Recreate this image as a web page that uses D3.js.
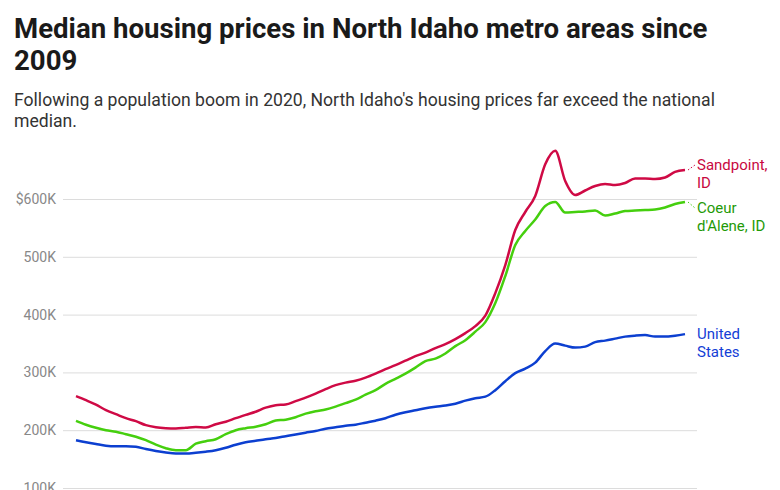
<!DOCTYPE html>
<head>
  <meta charset="utf-8">
  <script src="https://cdn.jsdelivr.net/npm/d3@7"></script>
  <style>
    body { margin:0; background:#fff; overflow:hidden; }
    svg { display:block; font-family: Roboto, "Noto Sans", sans-serif; }
  </style>
</head>

<body>
  <script>
    // size of the page
    var width = 780;
    var height = 490;

    // quarters from 2009 Q1 onward (x categories)
    var quarters = [];
    for (var yr = 2009; yr <= 2024; yr++) {
      for (var q = 1; q <= 4; q++) quarters.push(yr + " Q" + q);
    }
    quarters = quarters.slice(0, 62);

    // median prices in thousands of dollars
    var sandpoint = [258.9, 251.9, 244.2, 234.6, 227.7, 220.8, 215.6, 208.7, 205.2, 203.5,
      202.9, 204.3, 205.7, 204.7, 210.4, 214.7, 220.8, 226.5, 232.0, 239.0,
      243.3, 244.5, 250.2, 256.3, 263.2, 271.0, 277.9, 282.3, 285.7, 290.9,
      297.8, 305.6, 312.6, 320.3, 328.1, 334.2, 342.0, 348.9, 357.6, 368.0,
      380.1, 398.3, 437.2, 485.7, 546.3, 577.5, 605.2, 660.0, 683.5, 631.2,
      606.9, 614.7, 622.5, 626.0, 624.2, 627.7, 635.5, 635.5, 634.6, 637.2,
      646.8, 650.2];
    var coeurDAlene = [216.1, 209.5, 204.3, 200.0, 197.4, 193.1, 188.7, 182.7, 174.9, 168.8,
      165.4, 165.4, 176.6, 181.0, 184.4, 193.1, 200.0, 203.5, 206.1, 210.4,
      216.8, 218.2, 222.5, 228.6, 232.9, 235.8, 240.7, 246.8, 252.8, 261.5,
      269.3, 280.2, 288.8, 297.8, 308.2, 319.5, 323.8, 332.8, 345.5, 355.8,
      370.6, 387.0, 419.9, 466.7, 520.3, 544.6, 564.5, 587.9, 594.8, 576.6,
      577.5, 578.4, 580.1, 571.4, 574.9, 579.2, 580.1, 580.9, 581.8, 585.3,
      591.3, 594.8];
    var unitedStates = [182.7, 179.2, 176.1, 173.2, 172.3, 172.3, 171.4, 167.4, 164.0, 161.4,
      159.7, 159.7, 160.9, 162.8, 165.4, 169.7, 174.9, 179.2, 181.8, 184.4,
      186.5, 189.6, 192.7, 195.7, 198.6, 202.6, 205.2, 207.8, 209.5, 213.0,
      216.5, 220.8, 226.8, 231.2, 234.6, 238.1, 240.7, 242.8, 245.9, 251.1,
      255.4, 258.0, 269.3, 284.8, 298.7, 306.5, 316.9, 336.8, 349.8, 346.3,
      342.9, 344.6, 352.4, 355.0, 358.4, 361.9, 363.6, 364.5, 361.9, 361.9,
      363.6, 366.2];

    var yTicks = [100, 200, 300, 400, 500, 600];
    var seriesNames = ["Sandpoint, ID", "Coeur d'Alene, ID", "United States"];
    var lineColors = ["#cf0a45", "#45cf0e", "#0c3fd0"];
    var labelColors = ["#c8093f", "#1f9a08", "#1440d6"];
    var labelLines = [["Sandpoint,", "ID"], ["Coeur", "d'Alene, ID"], ["United", "States"]];

    var svg = d3.select("body").append("svg")
      .attr("width", width)
      .attr("height", height);

    // title and description
    var title = svg.append("text")
      .attr("x", 14)
      .attr("y", 38)
      .attr("font-size", 27.6)
      .attr("font-weight", 700)
      .attr("fill", "#1a1a1a");
    title.append("tspan").attr("x", 14).text("Median housing prices in North Idaho metro areas since");
    title.append("tspan").attr("x", 14).attr("dy", 32).text("2009");

    var sub = svg.append("text")
      .attr("x", 14)
      .attr("y", 106)
      .attr("font-size", 17.6)
      .attr("fill", "#333");
    sub.append("tspan").attr("x", 14).text("Following a population boom in 2020, North Idaho's housing prices far exceed the national");
    sub.append("tspan").attr("x", 14).attr("dy", 21).text("median.");

    // scales
    var x = d3.scalePoint().domain(quarters).range([76, 685]);
    var y = d3.scaleLinear().domain([100, 600]).range([488, 199]);

    // gridlines + y labels
    var yAxis = svg.append("g")
      .attr("transform", "translate(63,0)")
      .call(d3.axisLeft(y)
        .tickValues(yTicks)
        .tickSize(-634)
        .tickPadding(7)
        .tickFormat(function (d) { return (d == 600 ? "$" : "") + d + "K"; }));
    yAxis.select(".domain").remove();
    yAxis.selectAll(".tick line").attr("stroke", "#dcdcdc").attr("stroke-width", 1);
    yAxis.selectAll(".tick text")
      .attr("fill", "#888")
      .attr("font-size", 14)
      .attr("font-family", "Roboto, sans-serif");

    var line = d3.line()
      .x(function (d, i) { return x(quarters[i]); })
      .y(function (d) { return y(d); })
      .curve(d3.curveMonotoneX);

    var allSeries = [sandpoint, coeurDAlene, unitedStates];

    svg.selectAll("path.series")
      .data(allSeries).enter()
      .append("path")
      .attr("class", "series")
      .attr("d", line)
      .attr("fill", "none")
      .attr("stroke", function (d, i) { return lineColors[i]; })
      .attr("stroke-width", 2.5)
      .attr("stroke-linejoin", "round");

    // line labels at the right end
    var labelY = [170, 213, 339];
    var lastX = x(quarters[quarters.length - 1]);

    allSeries.forEach(function (s, i) {
      var endY = y(s[s.length - 1]);
      if (i < 2) {
        svg.append("line")
          .attr("x1", lastX + 3).attr("y1", endY)
          .attr("x2", 695).attr("y2", labelY[i] - 5)
          .attr("stroke", lineColors[i])
          .attr("stroke-width", 1)
          .attr("stroke-dasharray", "1.5,2");
      }
      var t = svg.append("text")
        .attr("x", 697)
        .attr("y", labelY[i])
        .attr("font-size", 15)
        .attr("fill", labelColors[i]);
      labelLines[i].forEach(function (l, j) {
        t.append("tspan").attr("x", 697).attr("dy", j ? 18 : 0).text(l);
      });
    });
  </script>
</body>
</html>
